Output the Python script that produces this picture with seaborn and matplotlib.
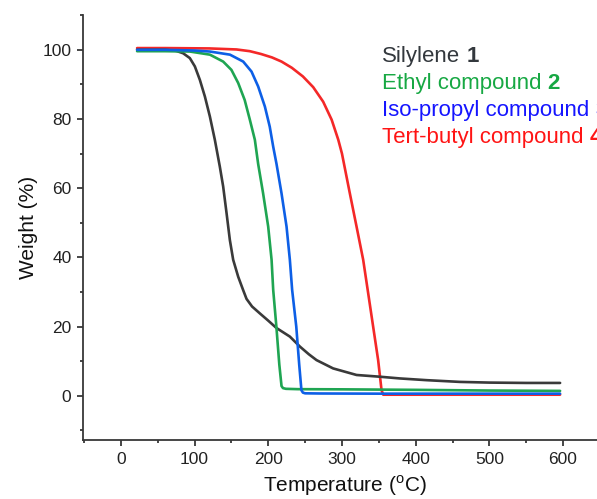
import matplotlib
matplotlib.use('Agg')
import matplotlib.pyplot as plt
import seaborn as sns
from matplotlib.ticker import MultipleLocator

# TGA curves (temperature in C, weight in %)
silylene_t = [22, 40, 60, 75, 84.5, 93.6, 100.4, 107.2, 114, 120.8, 127.5, 134.3, 138.8,
              143.4, 147.9, 152.4, 159.2, 166, 170.5, 178, 188.6, 200, 211, 229.3, 243,
              255, 265.5, 288, 319.8, 351.4, 378.6, 415, 460, 500, 550, 596]
silylene_w = [100, 100, 100, 99.7, 99.0, 97.6, 95.2, 91.3, 86.5, 80.7, 74, 66.2, 60.5,
              52.8, 45, 39.3, 34.4, 30.5, 28, 25.8, 23.8, 21.7, 19.6, 17.1, 14.2,
              12.0, 10.3, 7.9, 6.0, 5.5, 5.0, 4.5, 4.0, 3.8, 3.7, 3.7]

ethyl_t = [22, 60, 93.6, 120.8, 138.8, 150, 159.2, 168, 175, 181.8, 186.3, 193, 199.9,
           204.5, 206.7, 211, 215, 218, 220, 224, 240, 300, 400, 500, 596]
ethyl_w = [99.6, 99.6, 99.5, 98.6, 96.6, 94.2, 90.4, 85.5, 79.8, 74, 67, 58.5, 48.9,
           39.3, 30.6, 20, 9, 2.8, 2.2, 2.0, 1.9, 1.85, 1.7, 1.5, 1.4]

isopropyl_t = [22, 60, 100, 120.8, 148, 166, 177.3, 186.3, 195.4, 202, 206.7, 211.2, 218,
               224.8, 229.3, 232.4, 238, 242, 245, 247, 250, 270, 350, 450, 596]
isopropyl_w = [100, 100, 99.8, 99.5, 98.6, 96.6, 93.7, 89.4, 83.6, 77.8, 72, 67, 58.5,
               48.9, 39.3, 30.6, 20, 9, 1.6, 0.9, 0.7, 0.65, 0.6, 0.6, 0.6]

tertbutyl_t = [22, 60, 120, 157, 175, 190, 205, 218, 232, 247, 261, 274.5, 286, 295, 300,
               310.7, 319.8, 328.8, 335.6, 342.3, 349.1, 353.7, 356, 400, 500, 596]
tertbutyl_w = [100.5, 100.5, 100.4, 100.1, 99.6, 98.8, 97.8, 96.6, 94.8, 92.3, 89.2, 85,
               79.8, 74, 70, 58.5, 48.9, 39.3, 29.6, 20, 10.3, 1.6, 0.3, 0.3, 0.3, 0.3]

legend_names = ['Silylene', 'Ethyl compound', 'Iso-propyl compound', 'Tert-butyl compound']
legend_nums = ['1', '2', '3', '4']

sns.set_style('ticks')
plt.rcParams['font.family'] = ['Liberation Sans', 'DejaVu Sans']
plt.rcParams['mathtext.fontset'] = 'custom'
plt.rcParams['mathtext.rm'] = 'Liberation Sans'

fig = plt.figure(figsize=(5.97, 4.99), dpi=100)
ax = fig.add_axes([0.1395, 0.1182, 0.8777, 0.852])

dark = '#383838'
lw = 1.9
# red goes underneath, blue on top (as in the original)
sns.lineplot(x=tertbutyl_t, y=tertbutyl_w, ax=ax, color='#f42828', linewidth=lw,
             estimator=None, sort=False)
sns.lineplot(x=silylene_t, y=silylene_w, ax=ax, color='#3a3a3a', linewidth=lw,
             estimator=None, sort=False)
sns.lineplot(x=ethyl_t, y=ethyl_w, ax=ax, color='#1fa552', linewidth=lw,
             estimator=None, sort=False)
sns.lineplot(x=isopropyl_t, y=isopropyl_w, ax=ax, color='#0d5fe6', linewidth=lw,
             estimator=None, sort=False)

ax.set_xlim(-51, 660)
ax.set_ylim(-12.8, 110.1)
ax.xaxis.set_minor_locator(MultipleLocator(50))
ax.yaxis.set_minor_locator(MultipleLocator(10))
ax.set_xticks(range(0, 601, 100))
ax.set_yticks(range(0, 101, 20))

for side in ['top', 'right']:
    ax.spines[side].set_visible(False)
for side in ['left', 'bottom']:
    ax.spines[side].set_linewidth(1.3)
    ax.spines[side].set_color(dark)

ax.tick_params(which='major', length=4.5, width=1.3, color=dark, labelsize=12.5,
               labelcolor='#222222', pad=4)
ax.tick_params(which='minor', length=2.5, width=1.3, color=dark)

ax.set_xlabel(r'Temperature ($^{\mathrm{o}}$C)', fontsize=15, color='#111111', labelpad=5)
ax.set_ylabel('Weight (%)', fontsize=15, color='#111111', labelpad=3)

# coloured labels in the top right corner (number in bold)
text_colors = ['#33383d', '#17a843', '#1515ff', '#ff1414']
baselines = [62, 89, 116, 143]
for name, num, col, yb in zip(legend_names, legend_nums, text_colors, baselines):
    t = fig.text(382 / 597, 1 - yb / 499, name, color=col, fontsize=16,
                 va='baseline', ha='left')
    ax.annotate(num, xy=(1, 0), xycoords=t, xytext=(4.5, 0), textcoords='offset points',
                color=col, fontsize=16, fontweight='bold', va='bottom', ha='left',
                annotation_clip=False)

fig.savefig('out.png', dpi=100)
